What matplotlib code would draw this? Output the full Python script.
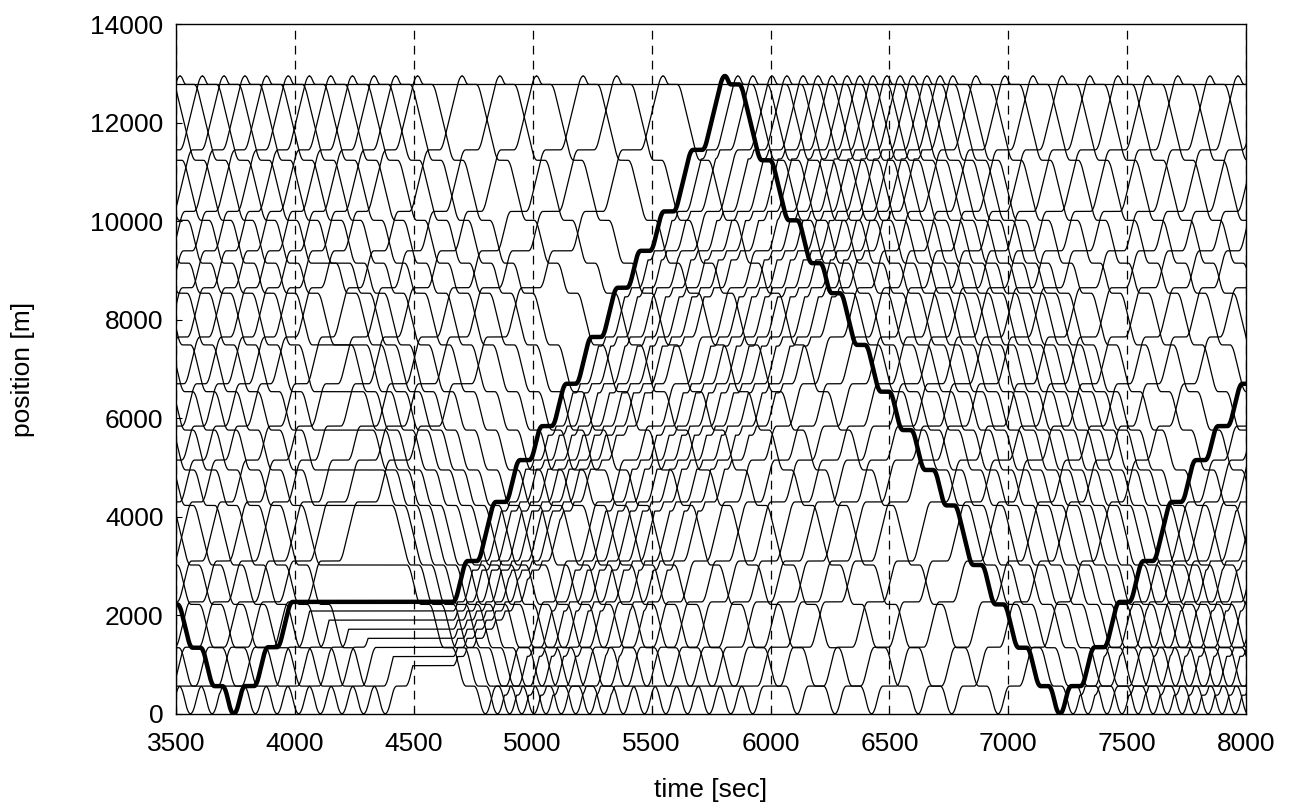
import numpy as np
import matplotlib.pyplot as plt

plt.rcParams['font.family'] = ['Liberation Sans', 'DejaVu Sans']

# up direction stops [m], bottom platform .. last station below the top
up_stops = [560, 1350, 2270, 3100, 4300, 5150, 5840, 6700, 7650, 8650, 9400, 10200, 11450]
# down direction stops [m], top platform .. bottom platform
down_stops = [12780, 11240, 10020, 9150, 8540, 7490, 6540, 5760, 4950, 4230, 3020, 2220, 1340, 560]
bottom_end = 0
top_end = 12950
top_platform = 12780

# time every train reaches the top end [sec], in running order
top_times = [696, 787, 878, 969, 1060, 1151, 1242, 1333, 1424, 1515,
             1606, 1697, 1788, 1879, 1970, 2061, 2152, 2243, 2334, 2425,
             2516, 2607, 2698, 2789, 2880, 2971, 3062, 3153, 3244, 3335,
             3426, 3517, 3611, 3702, 3790, 3881, 3972, 4061, 4151, 4242,
             4333, 4424, 4516, 4703, 4862, 5016, 5212, 5353, 5548, 5808,
             5863, 5926, 6006, 6069, 6137, 6200, 6259, 6322, 6376, 6431,
             6490, 6545, 6599, 6658, 6713, 6767, 6864, 6986, 7104, 7226,
             7343, 7461, 7587, 7713, 7848, 7966, 8080, 8190, 8300, 8420,
             8650, 8760, 8850, 8930, 9000, 9070, 9130, 9190, 9250, 9300,
             9360, 9420, 9470]

n_trains = 31
down_time = 1409      # top end -> bottom end, undisturbed
base_dwell = 37
min_dwell = 15
min_gap = 185

# marked train held at 2270 m; the trains behind it leave that station in slots
bold_top = 5808
hold_pos = 2270
hold_release = 4665
slot_headway = 40
n_slots = 16

# down trains held longer at their next station from 4100 s on [sec]
down_hold_from = 4100
first_held_top = 3062
held_extra = [330, 290, 250, 210, 170, 130, 100, 70, 40, 10]


def run_time(d, vmax=20.0, acc=1.0):
    d = abs(d)
    if d > vmax ** 2 / acc:
        return d / vmax + vmax / acc
    return 2 * np.sqrt(d / acc)


def leg(p0, p1, t0, vmax=20.0, acc=1.0):
    d = abs(p1 - p0)
    tt = run_time(d, vmax, acc)
    vp = min(vmax, np.sqrt(acc * d))
    ta = vp / acc
    tc = tt - 2 * ta
    tau = np.linspace(0, tt, 40)
    s = np.where(tau < ta, 0.5 * acc * tau ** 2,
                 np.where(tau < ta + tc, 0.5 * acc * ta ** 2 + vp * (tau - ta),
                          d - 0.5 * acc * (tt - tau) ** 2))
    return t0 + tau, p0 + np.sign(p1 - p0) * s


def trip(t0, stops, dwells):
    ts, ys = [], []
    t = t0
    for k in range(len(stops) - 1):
        tl, yl = leg(stops[k], stops[k + 1], t)
        ts.append(tl)
        ys.append(yl)
        t = tl[-1]
        if k < len(dwells):
            t += dwells[k]
    return np.concatenate(ts), np.concatenate(ys)


def total_run(stops):
    return sum(run_time(b - a) for a, b in zip(stops[:-1], stops[1:]))


UP = [bottom_end] + up_stops + [top_end]
DOWN = [top_end] + down_stops + [bottom_end]
min_up = total_run(UP) + min_dwell * len(up_stops)


def up_trip(t0, t1, slot=None):
    t1 = max(t1, t0 + min_up)
    if slot is None:
        dw = max((t1 - t0 - total_run(UP)) / len(up_stops), min_dwell)
        return trip(t0, UP, [dw] * len(up_stops))
    k = up_stops.index(hold_pos) + 1
    t_arr = t0 + total_run(UP[:k + 1]) + base_dwell * (k - 1)
    t_dep = max(t_arr + base_dwell, slot)
    rest = UP[k:]
    dw = max((t1 - t_dep - total_run(rest)) / (len(rest) - 2), min_dwell)
    dwells = [base_dwell] * (k - 1) + [t_dep - t_arr] + [dw] * (len(rest) - 2)
    return trip(t0, UP, dwells)


def down_trip(t0, extra=0):
    dw = (down_time - total_run(DOWN)) / len(down_stops)
    dwells = [dw] * len(down_stops)
    if extra:
        t = t0
        for k in range(len(down_stops)):
            t += run_time(DOWN[k + 1] - DOWN[k])
            if t + dwells[k] >= down_hold_from:
                dwells[k] += extra
                break
            t += dwells[k]
    return trip(t0, DOWN, dwells)


tg = np.arange(3300, 8200, 1.0)
bold_i = top_times.index(bold_top)
held_i = top_times.index(first_held_top)

fig = plt.figure(figsize=(12.94, 8.11), dpi=100)
ax = fig.add_axes([0.136, 0.12, 0.827, 0.85])
bold_parts = []

# down trips, and the time each train gets back to the bottom end
bottom_times = {}
for i in range(len(top_times)):
    if top_times[i] > 8200:
        break
    k = i - held_i
    extra = held_extra[k] if 0 <= k < len(held_extra) else 0
    t, y = down_trip(top_times[i], extra)
    bottom_times[i] = t[-1]
    if t[-1] < 3300:
        continue
    if (i - bold_i) % n_trains == 0:
        bold_parts.append((t, y))
    else:
        ax.plot(t, y, color='black', lw=0.9)

# up trips, a train never closer than min_gap to the one ahead
prev = None
for i in range(n_trains, len(top_times)):
    t0 = bottom_times.get(i - n_trains)
    if t0 is None or t0 > 8200:
        continue
    j = i - bold_i
    if 0 <= j <= n_slots:
        t, y = up_trip(t0, top_times[i], hold_release + slot_headway * j)
    else:
        t, y = up_trip(t0, top_times[i])
    yg = np.interp(tg, t, y, left=np.nan, right=np.nan)
    if prev is not None and i != bold_i:
        ok = ~np.isnan(prev) & ~np.isnan(yg)
        yg[ok] = np.maximum(np.minimum(yg[ok], prev[ok] - min_gap), bottom_end)
    prev = yg
    if j % n_trains == 0:
        bold_parts.append((tg, yg))
    else:
        ax.plot(tg, yg, color='black', lw=0.9)

ax.axhline(top_platform, color='black', lw=0.9)

for t, y in bold_parts:
    ax.plot(t, y, color='black', lw=3.2, solid_capstyle='round', zorder=5)

ax.set_xlim(3500, 8000)
ax.set_ylim(0, 14000)
ax.set_xticks(np.arange(3500, 8001, 500))
ax.set_yticks(np.arange(0, 14001, 2000))
ax.grid(axis='x', color='black', lw=0.9, linestyle=(0, (7, 5)))
ax.tick_params(direction='in', length=4, labelsize=19)
ax.tick_params(axis='x', pad=13)
ax.tick_params(axis='y', pad=9)
for s in ax.spines.values():
    s.set_linewidth(1.0)
ax.set_xlabel('time [sec]', fontsize=19, labelpad=16)
ax.set_ylabel('position [m]', fontsize=19, labelpad=40)

fig.savefig('out.png', dpi=100)
